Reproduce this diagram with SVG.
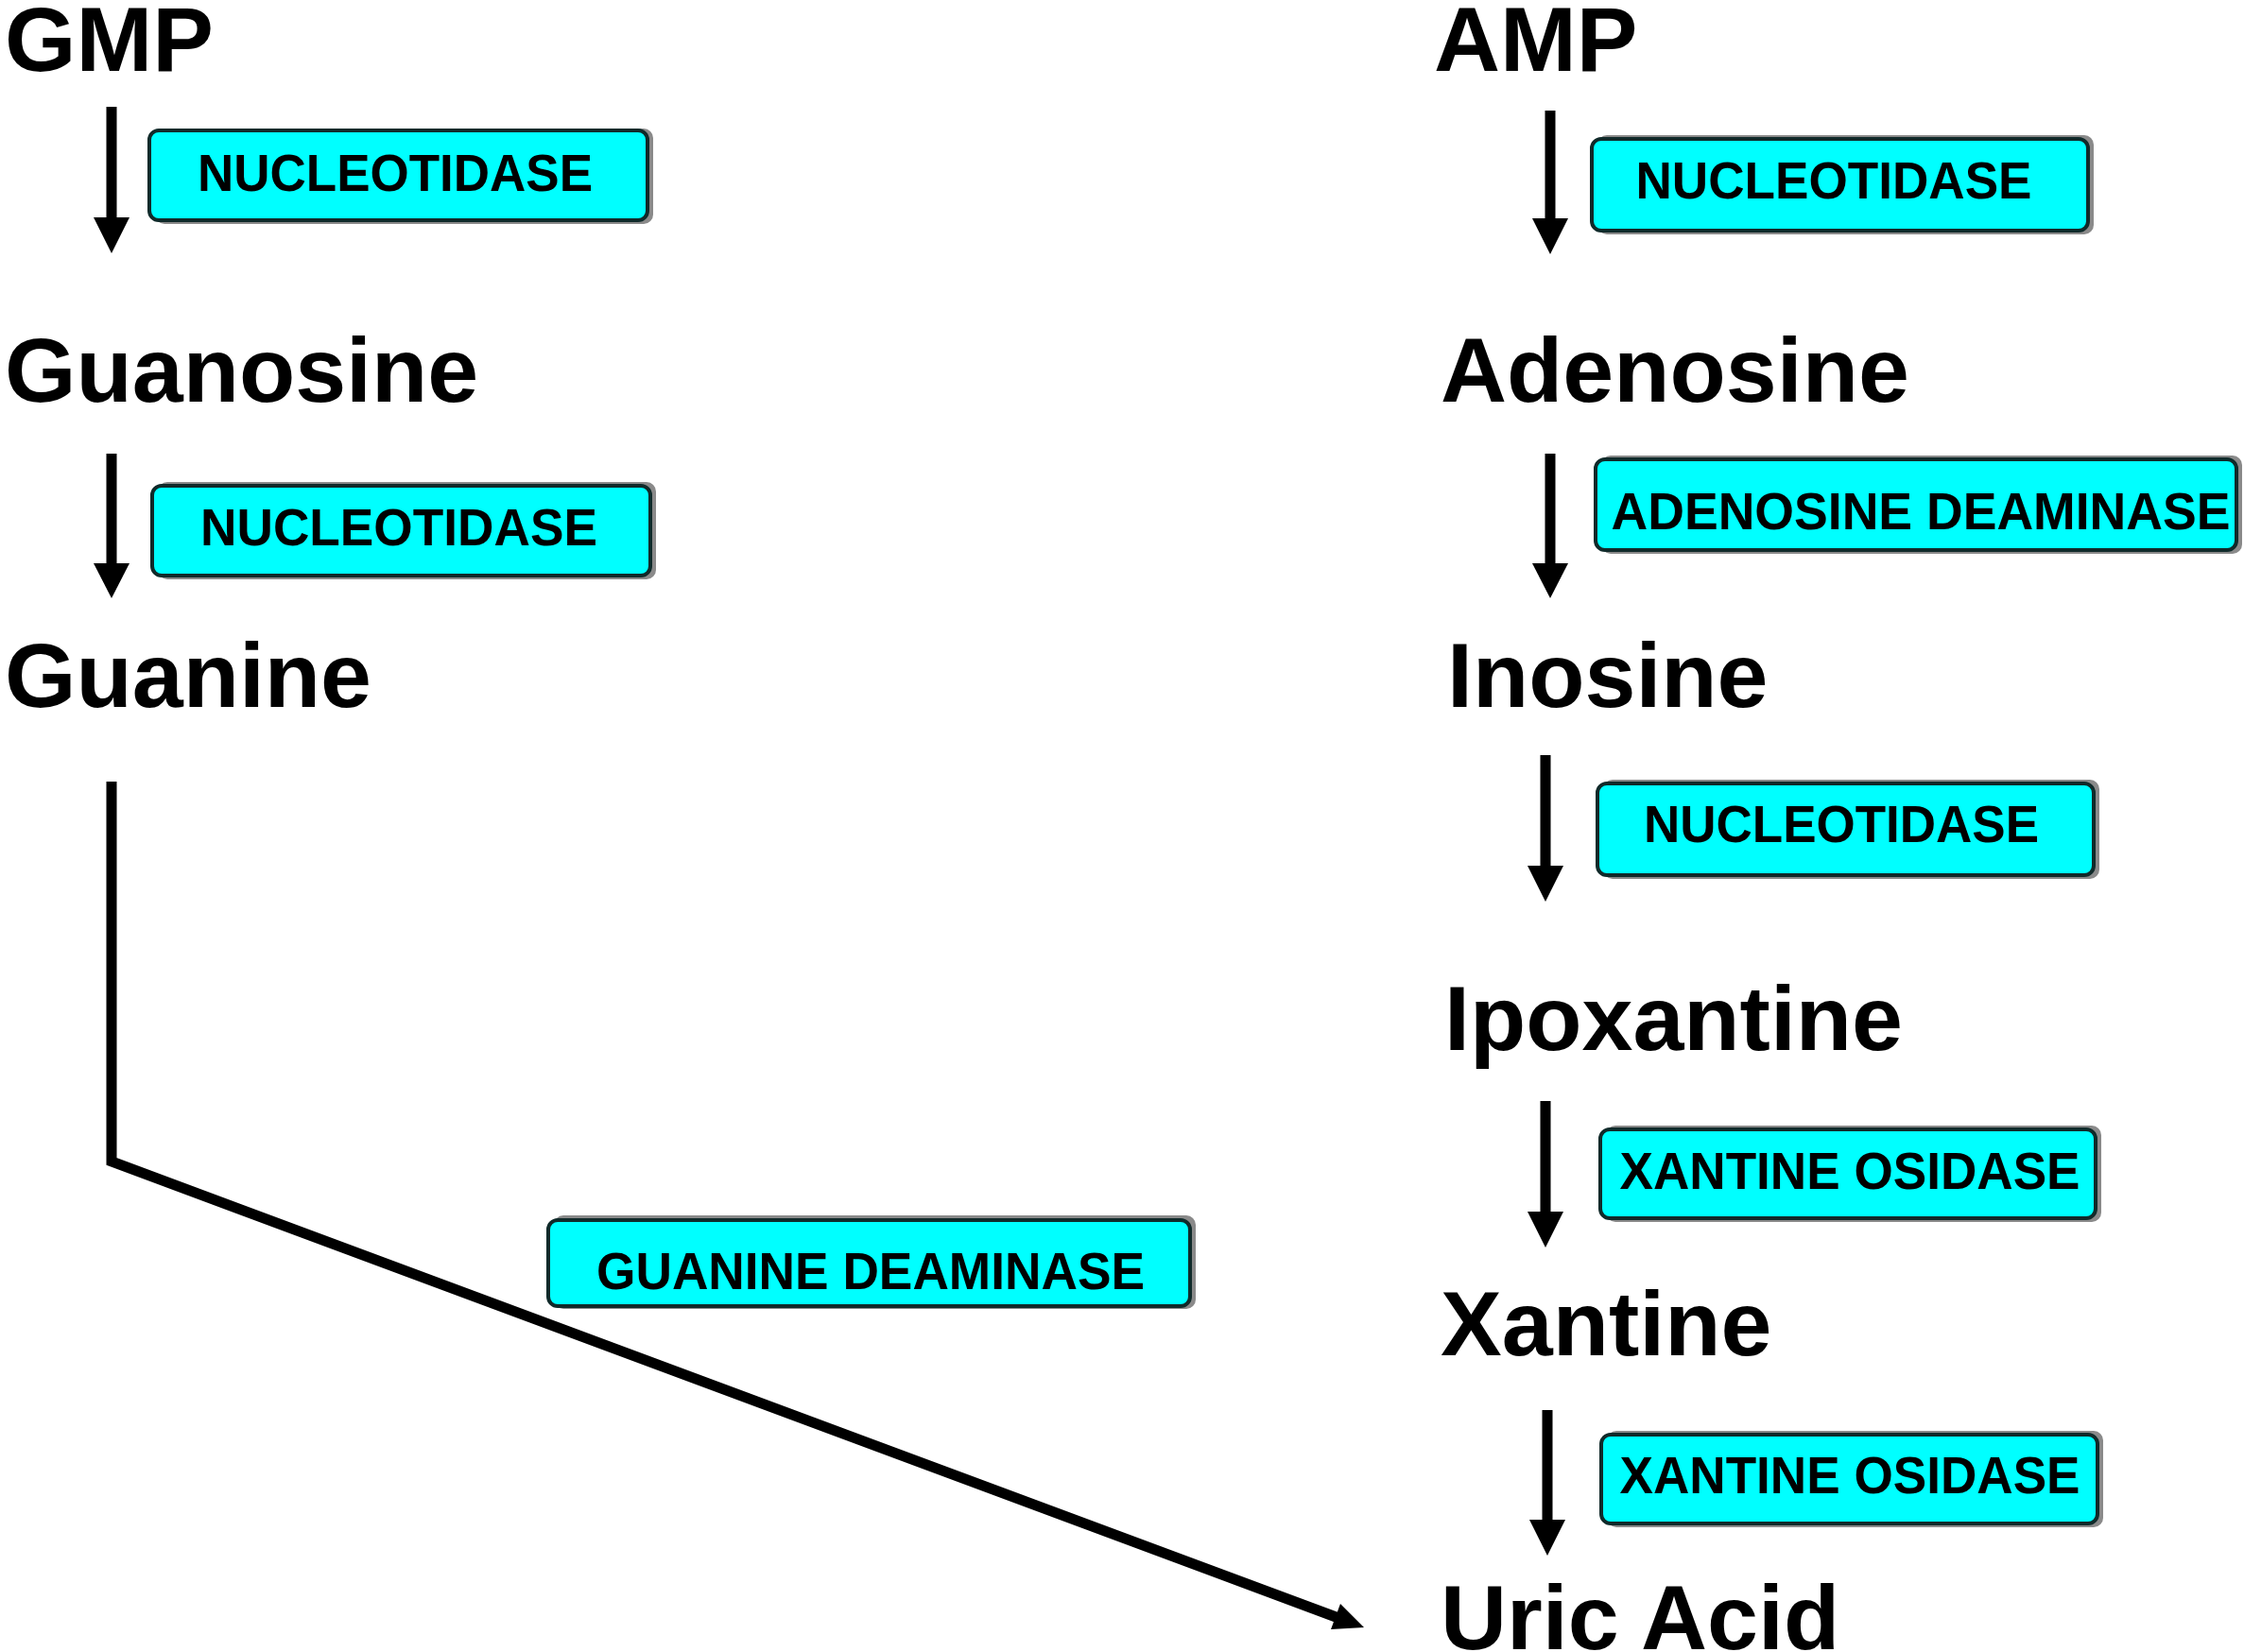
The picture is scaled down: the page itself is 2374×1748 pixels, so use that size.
<svg xmlns="http://www.w3.org/2000/svg" width="2374" height="1748" viewBox="0 0 2374 1748">
<style>
.lbl{font-family:"Liberation Sans",Arial,sans-serif;font-weight:bold;font-size:97px;fill:#000}
.enz{font-family:"Liberation Sans",Arial,sans-serif;font-weight:bold;font-size:56px;fill:#000;text-anchor:middle}
.box{fill:#00FFFF;stroke:#102a2a;stroke-width:4}
.sh{fill:#8a8a8a}
.ln{stroke:#000;stroke-width:11;fill:none}
.hd{fill:#000}
</style>
<rect width="2374" height="1748" fill="#fff"/>
<g id="connectors">
<line class="ln" x1="118" y1="113" x2="118" y2="234"/><polygon class="hd" points="99,230 137,230 118,268"/>
<line class="ln" x1="118" y1="480" x2="118" y2="600"/><polygon class="hd" points="99,596 137,596 118,633"/>
<line class="ln" x1="1640" y1="117" x2="1640" y2="234"/><polygon class="hd" points="1621,231 1659,231 1640,269"/>
<line class="ln" x1="1640" y1="480" x2="1640" y2="600"/><polygon class="hd" points="1621,596 1659,596 1640,633"/>
<line class="ln" x1="1635" y1="799" x2="1635" y2="920"/><polygon class="hd" points="1616,916 1654,916 1635,954"/>
<line class="ln" x1="1635" y1="1165" x2="1635" y2="1286"/><polygon class="hd" points="1616,1282 1654,1282 1635,1320"/>
<line class="ln" x1="1637" y1="1492" x2="1637" y2="1612"/><polygon class="hd" points="1618,1608 1656,1608 1637,1646"/>
<polyline class="ln" points="118,827 118,1229 1416,1712" stroke-linejoin="miter"/>
<polygon class="hd" points="1443,1722 1408,1724 1418,1697"/>
</g>
<g id="GMP"><text class="lbl" x="5" y="75">GMP</text></g>
<g id="Guanosine"><text class="lbl" x="5" y="425">Guanosine</text></g>
<g id="Guanine"><text class="lbl" x="5" y="748">Guanine</text></g>
<g id="AMP"><text class="lbl" x="1517" y="75">AMP</text></g>
<g id="Adenosine"><text class="lbl" x="1524" y="425">Adenosine</text></g>
<g id="Inosine"><text class="lbl" x="1531" y="748">Inosine</text></g>
<g id="Ipoxantine"><text class="lbl" x="1528" y="1111">Ipoxantine</text></g>
<g id="Xantine"><text class="lbl" x="1524" y="1434">Xantine</text></g>
<g id="UricAcid"><text class="lbl" x="1524" y="1745">Uric Acid</text></g>
<g id="enz1"><rect class="sh" x="164" y="136" width="527" height="101" rx="10"/><rect class="box" x="158" y="138" width="527" height="95" rx="10"/><text class="enz" x="418" y="202" textLength="418" lengthAdjust="spacingAndGlyphs">NUCLEOTIDASE</text></g>
<g id="enz2"><rect class="sh" x="167" y="510" width="527" height="103" rx="10"/><rect class="box" x="161" y="514" width="527" height="95" rx="10"/><text class="enz" x="422" y="577" textLength="420" lengthAdjust="spacingAndGlyphs">NUCLEOTIDASE</text></g>
<g id="enz3"><rect class="sh" x="586" y="1286" width="679" height="99" rx="10"/><rect class="box" x="580" y="1291" width="679" height="91" rx="10"/><text class="enz" x="921" y="1364" textLength="580" lengthAdjust="spacingAndGlyphs">GUANINE DEAMINASE</text></g>
<g id="enz4"><rect class="sh" x="1690" y="143" width="525" height="105" rx="10"/><rect class="box" x="1684" y="147" width="525" height="97" rx="10"/><text class="enz" x="1940" y="210" textLength="419" lengthAdjust="spacingAndGlyphs">NUCLEOTIDASE</text></g>
<g id="enz5"><rect class="sh" x="1694" y="482" width="678" height="104" rx="10"/><rect class="box" x="1688" y="486" width="678" height="96" rx="10"/><text class="enz" x="2032" y="560" textLength="655" lengthAdjust="spacingAndGlyphs">ADENOSINE DEAMINASE</text></g>
<g id="enz6"><rect class="sh" x="1696" y="825" width="525" height="105" rx="10"/><rect class="box" x="1690" y="829" width="525" height="97" rx="10"/><text class="enz" x="1948" y="891" textLength="418" lengthAdjust="spacingAndGlyphs">NUCLEOTIDASE</text></g>
<g id="enz7"><rect class="sh" x="1699" y="1191" width="524" height="102" rx="10"/><rect class="box" x="1693" y="1195" width="524" height="94" rx="10"/><text class="enz" x="1957" y="1258" textLength="487" lengthAdjust="spacingAndGlyphs">XANTINE OSIDASE</text></g>
<g id="enz8"><rect class="sh" x="1700" y="1514" width="525" height="102" rx="10"/><rect class="box" x="1694" y="1518" width="525" height="94" rx="10"/><text class="enz" x="1957" y="1580" textLength="487" lengthAdjust="spacingAndGlyphs">XANTINE OSIDASE</text></g>
</svg>
